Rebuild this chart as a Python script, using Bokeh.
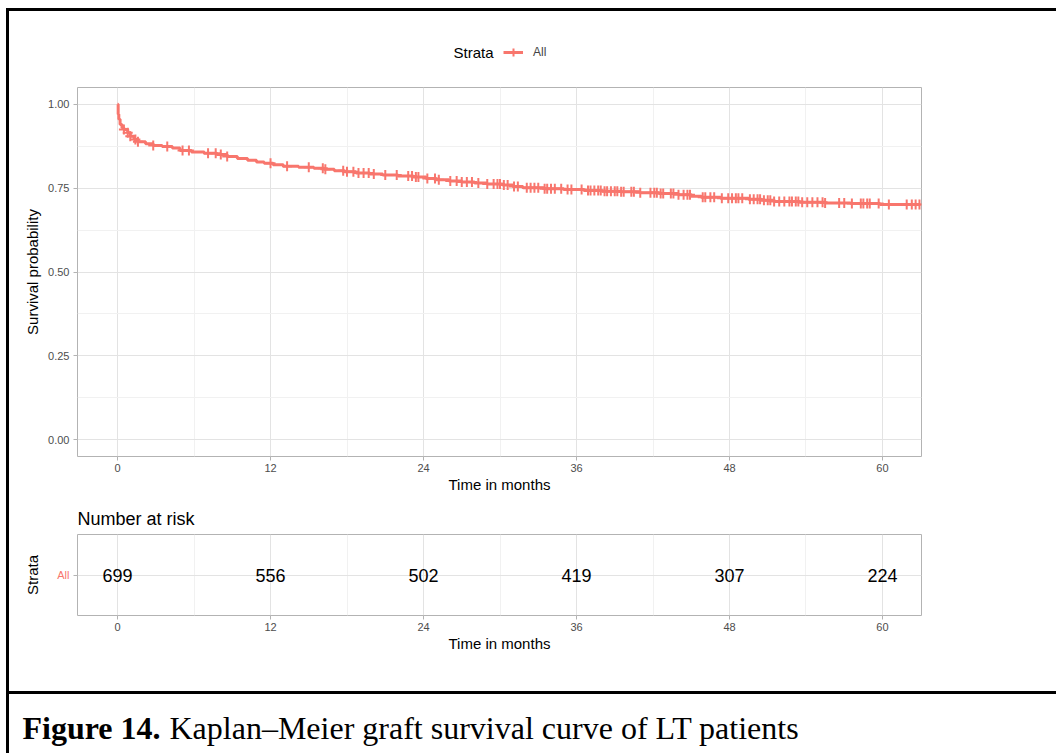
import numpy as np
from bokeh.plotting import figure
from bokeh.models import (Range1d, FactorRange, FixedTicker, Label, Legend, LegendItem,
                          Title, Div)
from bokeh.layouts import column, row
from bokeh.embed import file_html
from bokeh.resources import INLINE
from bokeh.core.properties import value

# ---------------- data ----------------
km_time = [0.0, 0.05, 0.1, 0.2, 0.35, 0.5, 0.8, 1.0, 1.3, 1.6, 2.2, 2.8, 3.5, 4.3, 4.9,
           5.8, 6.8, 7.8, 8.6, 9.4, 10.2, 10.9, 11.5, 12.2, 13.0, 14.2, 15.4, 16.2, 17.0,
           17.8, 18.7, 19.8, 20.8, 22.0, 23.2, 24.2, 25.0, 26.0, 27.0, 28.0, 29.0, 30.2,
           31.0, 31.8, 33.5, 35.0, 36.6, 38.0, 39.5, 41.0, 42.5, 44.0, 45.0, 45.8, 47.3,
           49.5, 50.5, 51.5, 53.5, 55.5, 57.5, 59.8, 62.95]
km_surv = [1.000, 0.970, 0.955, 0.940, 0.930, 0.925, 0.915, 0.905, 0.895, 0.888, 0.882,
           0.877, 0.874, 0.870, 0.862, 0.858, 0.854, 0.850, 0.844, 0.838, 0.833, 0.828,
           0.824, 0.820, 0.815, 0.812, 0.809, 0.806, 0.802, 0.799, 0.795, 0.792, 0.789,
           0.786, 0.783, 0.779, 0.775, 0.771, 0.768, 0.765, 0.762, 0.759, 0.755, 0.751,
           0.748, 0.746, 0.743, 0.741, 0.739, 0.736, 0.734, 0.730, 0.726, 0.723, 0.720,
           0.717, 0.714, 0.710, 0.708, 0.706, 0.704, 0.701, 0.701]
censor_time = [0.5, 0.8, 1.0, 1.4, 1.6, 2.8, 3.9, 5.1, 5.6, 7.1, 7.7, 8.1, 8.6, 12.0, 13.3,
               15.0, 16.1, 16.3, 17.7, 18.0, 18.5, 18.9, 19.3, 19.7, 20.1, 21.0, 21.9, 22.8,
               23.1, 23.4, 23.6, 24.3, 24.9, 25.2, 26.1, 26.6, 27.0, 27.4, 27.8, 28.3, 29.0,
               29.5, 29.8, 30.0, 30.3, 30.6, 31.1, 31.4, 32.1, 32.4, 32.7, 33.0, 33.5, 33.7,
               34.0, 34.3, 34.8, 35.3, 35.6, 36.4, 36.9, 37.1, 37.4, 37.7, 37.9, 38.2, 38.4,
               38.7, 39.0, 39.2, 39.5, 39.7, 40.3, 40.5, 41.0, 41.8, 42.1, 42.3, 42.6, 42.8,
               43.4, 43.6, 44.0, 44.4, 44.7, 44.9, 45.9, 46.1, 46.5, 46.8, 47.4, 47.9, 48.2,
               48.5, 48.7, 49.0, 49.6, 49.9, 50.2, 50.4, 50.7, 51.0, 51.2, 51.5, 51.9, 52.3,
               52.7, 52.9, 53.2, 53.4, 53.7, 54.1, 54.5, 54.9, 55.3, 55.5, 56.6, 57.0, 57.6,
               58.3, 58.5, 58.8, 59.0, 59.7, 60.5, 61.9, 62.3, 62.6, 62.9]
strata = ["All"]
risk_time = [0, 12, 24, 36, 48, 60]
risk_count = [699, 556, 502, 419, 307, 224]
x_ticks = [0, 12, 24, 36, 48, 60]
x_minor = [6, 18, 30, 42, 54]
y_ticks = [0.0, 0.25, 0.5, 0.75, 1.0]
y_tick_labels = ["0.00", "0.25", "0.50", "0.75", "1.00"]
y_minor = [0.125, 0.375, 0.625, 0.875]
caption_bold = "Figure 14."
caption_text = "Kaplan\u2013Meier graft survival curve of LT patients"

# survival value of the KM step function at each censoring time
_kt = np.array(km_time)
_ks = np.array(km_surv)
censor_surv = [float(_ks[np.searchsorted(_kt, t, side="right") - 1]) for t in censor_time]

RED = "#F8766D"
FONT = "Liberation Sans"
SERIF = "Liberation Serif"
GRID = "#E3E3E3"
MINOR = "#F1F1F1"
FRAME = "#B3B3B3"
W = 1047  # width of the inner panel (right of the left border line)


def style(fig):
    for ax in (fig.xaxis[0], fig.yaxis[0]):
        ax.axis_line_color = None
        ax.major_tick_line_color = FRAME
        ax.major_tick_out = 4
        ax.major_tick_in = 0
        ax.minor_tick_line_color = None
        ax.major_label_text_font = FONT
        ax.major_label_text_font_size = "11px"
        ax.major_label_text_color = "#4D4D4D"
        ax.axis_label_text_font = FONT
        ax.axis_label_text_font_size = "15px"
        ax.axis_label_text_font_style = "normal"
        ax.axis_label_text_color = "black"
    fig.outline_line_color = FRAME
    fig.outline_line_width = 1
    fig.background_fill_color = "white"
    fig.border_fill_color = "white"
    fig.xgrid.grid_line_color = GRID
    fig.xgrid.minor_grid_line_color = MINOR
    fig.ygrid.grid_line_color = GRID
    fig.xaxis[0].major_label_standoff = 3
    fig.yaxis[0].major_label_standoff = 4


def blank_fig(h):
    f = figure(width=W, height=h, output_backend="svg", toolbar_location=None,
               x_axis_type=None, y_axis_type=None, title=None,
               x_range=Range1d(0, W), y_range=Range1d(0, h),
               min_border_left=0, min_border_right=0, min_border_top=0, min_border_bottom=0)
    f.outline_line_color = None
    f.background_fill_color = "white"
    f.border_fill_color = "white"
    f.grid.visible = False
    f.frame_align = False
    return f


# ---------------- legend strip ----------------
lg = blank_fig(76)
leg_line = lg.line([-20, -10], [-20, -20], line_color=RED, line_width=3)
leg_cross = lg.scatter([-15], [-20], marker="cross", size=10, line_color=RED, line_width=2)
legend = Legend(items=[LegendItem(label=strata[0], renderers=[leg_line, leg_cross])],
                location=(494, 25), orientation="horizontal", glyph_width=20,
                glyph_height=20, label_height=20, padding=0, margin=0,
                border_line_color=None, background_fill_alpha=0,
                label_text_font=FONT, label_text_font_size="12px", label_standoff=10)
lg.add_layout(legend)
lg.add_layout(Label(x=444, y=35, x_units="screen", y_units="screen", text="Strata",
                    text_font=FONT, text_font_size="15px", text_baseline="middle",
                    text_color="black"))

# ---------------- survival plot ----------------
p = figure(width=W, height=413, output_backend="svg", toolbar_location=None, title=None,
           x_range=Range1d(-3.14, 63.06), y_range=Range1d(-0.05, 1.05),
           min_border_left=68, min_border_right=135, min_border_top=0, min_border_bottom=44)
style(p)
p.ygrid.minor_grid_line_color = MINOR
p.xaxis[0].ticker = FixedTicker(ticks=x_ticks, minor_ticks=x_minor)
p.yaxis[0].ticker = FixedTicker(ticks=y_ticks, minor_ticks=y_minor)
p.yaxis[0].major_label_overrides = {t: s for t, s in zip(y_ticks, y_tick_labels)}
p.xaxis[0].axis_label = "Time in months"
p.yaxis[0].axis_label = "Survival probability"
p.xaxis[0].axis_label_standoff = 1
p.yaxis[0].axis_label_standoff = 4

p.step(km_time, km_surv, mode="after", line_color=RED, line_width=3)
p.scatter(censor_time, censor_surv, marker="cross", size=10, line_color=RED, line_width=2)

# ---------------- risk table ----------------
r = figure(width=W, height=191, output_backend="svg", toolbar_location=None,
           x_range=Range1d(-3.14, 63.06), y_range=FactorRange(factors=strata),
           min_border_left=68, min_border_right=135, min_border_top=34, min_border_bottom=76)
r.title = Title(text="Number at risk", align="left", text_font=FONT,
                text_font_size="18px", text_font_style="normal", text_color="black",
                standoff=12)
style(r)
r.xaxis[0].ticker = FixedTicker(ticks=x_ticks, minor_ticks=x_minor)
r.xaxis[0].axis_label = "Time in months"
r.yaxis[0].axis_label = "Strata"
r.xaxis[0].axis_label_standoff = 1
r.yaxis[0].axis_label_standoff = 13
r.yaxis[0].major_label_text_color = RED

r.text(x=risk_time, y=[strata[0]] * len(risk_time), text=[str(c) for c in risk_count],
       text_font=value(FONT), text_font_size="18px", text_align="center",
       text_baseline="middle", text_color="black")

# ---------------- caption ----------------
cap = blank_fig(59)
cap.add_layout(Label(x=13, y=26, x_units="screen", y_units="screen", text=caption_bold,
                     text_font=SERIF, text_font_size="32px", text_font_style="bold",
                     text_baseline="middle", text_color="black"))
cap.add_layout(Label(x=160, y=26, x_units="screen", y_units="screen", text=caption_text,
                     text_font=SERIF, text_font_size="32px", text_baseline="middle",
                     text_color="black"))

# ---------------- frame lines and assembly ----------------
BLACK = {"background-color": "black"}
inner = column(
    Div(text="", width=W, height=3, margin=0, styles=BLACK),
    lg, p, r,
    Div(text="", width=W, height=3, margin=0, styles=BLACK),
    cap,
    spacing=0, margin=0)
layout = column(
    Div(text="", width=1056, height=8, margin=0),
    row(Div(text="", width=6, height=745, margin=0),
        Div(text="", width=3, height=745, margin=0, styles=BLACK),
        inner, spacing=0, margin=0),
    spacing=0, margin=0)

open("out.html", "w").write(file_html(layout, INLINE))
